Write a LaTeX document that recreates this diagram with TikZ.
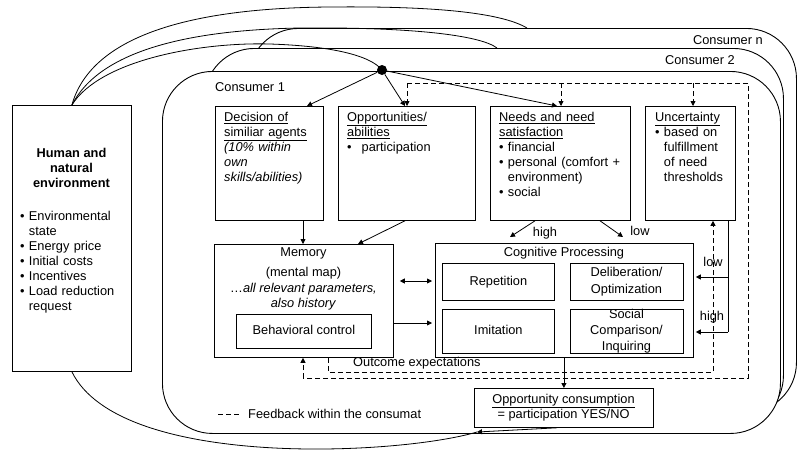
\documentclass[tikz,border=0pt]{standalone}
\usepackage{fontspec}
\setmainfont{Liberation Sans}
\usetikzlibrary{arrows.meta,calc}
\newcommand\fsz{\fontsize{12.8}{15}\selectfont}
\begin{document}
\begin{tikzpicture}[x=1pt,y=-1pt,
  ln/.style={line width=0.8pt},
  bx/.style={draw, line width=0.8pt, fill=white, inner sep=0pt, anchor=north west},
  cons/.style={draw, line width=0.9pt, fill=white, rounded corners=50pt, inner sep=0pt, anchor=north west},
  tip/.style={-{Triangle[length=5pt,width=5pt]}},
  tips/.style={{Triangle[length=5pt,width=5pt]}-{Triangle[length=5pt,width=5pt]}},
  fb/.style={line width=0.8pt, dash pattern=on 5pt off 3pt},
  blk/.style={inner sep=0pt, anchor=north west, font=\fsz, align=left, text width=#1},
  lbl/.style={inner sep=0pt, font=\fsz, text height=9pt, text depth=2.5pt},
]
\useasboundingbox (0,0) rectangle (802,450);
\fill[white] (0,0) rectangle (802,450);

% consumers
\node[cons, minimum width=548pt, minimum height=384pt] (cn) at (248,28) {};
\node[cons, minimum width=579pt, minimum height=377pt] (c2) at (204,48) {};
\node[cons, minimum width=618pt, minimum height=362pt] (c1) at (162,71) {};
\node[lbl, anchor=east] (cnl) at (763,41) {Consumer n};
\node[lbl, anchor=east] (c2l) at (735,61) {Consumer 2};
\node[lbl, anchor=west] (c1l) at (215,88) {Consumer 1};

% environment
\node[bx, minimum width=119pt, minimum height=266pt] (human) at (12,105) {};
\node[lbl, align=center, font=\fsz\bfseries, text height=, text depth=] (htitle) at (71.5,168) {Human and\\natural\\environment};
\node[blk=110pt] (hlist) at (20,209.5) {\strut• Environmental\\\phantom{•} state\\• Energy price\\• Initial costs\\• Incentives\\• Load reduction\\\phantom{•} request};

% top boxes
\node[bx, minimum width=108pt, minimum height=114pt] (dec) at (215,106) {};
\node[blk=98pt] (dect) at (224,110.5) {\strut\underline{Decision of}\\\underline{similiar agents}\\\textit{(10\% within}\\\textit{own}\\\textit{skills/abilities)}};
\node[bx, minimum width=137pt, minimum height=114pt] (opp) at (338,106) {};
\node[blk=125pt] (oppt) at (347,110.5) {\strut\underline{Opportunities/}\\\underline{abilities}\\•\hspace{10pt}participation};
\node[bx, minimum width=140pt, minimum height=114pt] (need) at (490,106) {};
\node[blk=130pt] (needt) at (499,110.5) {\strut\underline{Needs and need}\\\underline{satisfaction}\\• financial\\• personal (comfort +\\\phantom{•} environment)\\• social};
\node[bx, minimum width=90pt, minimum height=114pt] (unc) at (645,106) {};
\node[blk=85pt] (unct) at (655,110.5) {\strut\underline{Uncertainty}\\• based on\\\phantom{•} fulfillment\\\phantom{•} of need\\\phantom{•} thresholds};

% memory
\node[bx, minimum width=179pt, minimum height=113pt] (mem) at (214,244) {};
\node[lbl] (memh) at (303.5,253) {Memory};
\node[inner sep=0pt, align=center, font=\fontsize{12.8}{15.5}\selectfont] (memt) at (303.5,289) {(mental map)\\…\textit{all relevant parameters,}\\\textit{also history}};
\node[bx, minimum width=135pt, minimum height=34pt] (bc) at (236,314) {};
\node[lbl] (bct) at (bc.center) {Behavioral control};

% cognitive processing
\node[bx, minimum width=258pt, minimum height=114pt] (cog) at (435,243) {};
\node[lbl] (cogt) at (564,253) {Cognitive Processing};
\node[bx, minimum width=112pt, minimum height=37pt] (rep) at (442,263) {};
\node[lbl] (rept) at (rep.center) {Repetition};
\node[bx, minimum width=113pt, minimum height=37pt] (del) at (570,263) {};
\node[inner sep=0pt, align=center, font=\fontsize{12.8}{17}\selectfont] (delt) at (626.5,282) {Deliberation/\\Optimization};
\node[bx, minimum width=112pt, minimum height=44pt] (imi) at (442,309) {};
\node[lbl] (imit) at (imi.center) {Imitation};
\node[bx, minimum width=113pt, minimum height=44pt] (soc) at (570,309) {};
\node[inner sep=0pt, align=center, font=\fontsize{12.8}{16}\selectfont] (soct) at (626.5,331.5) {Social\\Comparison/\\Inquiring};

% opportunity consumption
\node[bx, minimum width=179pt, minimum height=39pt] (oc) at (474,388) {};
\node[lbl] (oct1) at (563.5,400) {\underline{Opportunity consumption}};
\node[lbl] (oct2) at (563.5,415) {= participation YES/NO};

% dot and links from environment
\node[circle, fill=black, inner sep=0pt, minimum size=10pt] (dot) at (382,70) {};
\draw[ln] (human.north) .. controls (90,40) and (180,8) .. (330,7) .. controls (430,6) and (500,12) .. (527,28);
\draw[ln] (human.north) .. controls (100,50) and (190,30) .. (300,28) .. controls (410,27) and (480,35) .. (497,48);
\draw[ln] (human.north) .. controls (100,60) and (200,42) .. (270,44) .. controls (330,46) and (370,55) .. (dot.center);

\draw[ln,tip] (dot) -- ($(dec.north west)+(92,0)$);
\draw[ln,tip] (dot) -- ($(opp.north west)+(67,0)$);
\draw[ln,tip] (dot) -- ($(need.north west)+(67,0)$);

% outer feedback loop
\coordinate (fbTL) at (407,83);
\coordinate (fbTR) at (748,83);
\coordinate (fbBR) at (748,378);
\coordinate (fbBL) at (303,378);
\coordinate (xN) at (561,0);
\coordinate (xU) at (693,0);
\draw[fb] (fbTL) -- (fbTR) -- (fbBR) -- (fbBL);
\draw[fb,tip] (fbBL) -- (mem.south -| fbBL);
\draw[fb,tip] (fbTL) -- (opp.north -| fbTL);
\draw[fb,tip] (fbTL -| xN) -- (need.north -| xN);
\draw[fb,tip] (fbTL -| xU) -- (unc.north -| xU);

% outcome expectations loop
\coordinate (oe1) at (328,372);
\coordinate (oe2) at (713,372);
\draw[fb,tip] (mem.south -| oe1) -- (oe1) -- (oe2) -- (unc.south -| oe2);
\node[lbl, anchor=west] (oet) at (353,363) {Outcome expectations};

% top boxes to memory
\coordinate (xD) at (303,0);
\draw[ln,tip] (dec.south -| xD) -- (mem.north -| xD);
\draw[ln,tip] ($(opp.south west)+(67,0)$) -- ($(mem.north west)+(144,0)$);

% needs to cognitive
\draw[ln,tip] ($(need.south west)+(45,0)$) -- (510,237);
\draw[ln,tip] ($(need.south west)+(110,0)$) -- (623,237);
\node[lbl] (nh) at (545,233) {high};
\node[lbl] (nl) at (640,232) {low};

% uncertainty to cognitive
\coordinate (u1) at (728,277);
\coordinate (u2) at (728,332);
\draw[ln] (unc.south -| u1) -- (u2);
\draw[ln,tip] (u1) -- ($(cog.east |- u1)+(2,0)$);
\draw[ln,tip] (u2) -- ($(cog.east |- u2)+(2,0)$);
\node[lbl] (ul) at (713,263) {low};
\node[lbl] (uh) at (712,317) {high};

% memory <-> cognitive
\coordinate (ya) at (0,281);
\coordinate (yb) at (0,323);
\draw[ln,tips] ($(mem.east |- ya)+(6,0)$) -- ($(cog.west |- ya)+(-3,0)$);
\draw[ln,tip] (mem.east |- yb) -- ($(cog.west |- yb)+(-3,0)$);

% cognitive to opportunity consumption
\draw[ln,tip] (cog.south -| oc.north) -- (oc.north);

% back to environment
\coordinate (ocj) at (477,432);
\draw[ln,tip] ($(oc.south west)+(83,0)$) -- (ocj);
\draw[ln] (ocj) .. controls (400,455) and (120,470) .. (human.south);

% legend
\draw[fb] (218,414) -- (240,414);
\node[lbl, anchor=west] (leg) at (248,415) {Feedback within the consumat};
\end{tikzpicture}
\end{document}
